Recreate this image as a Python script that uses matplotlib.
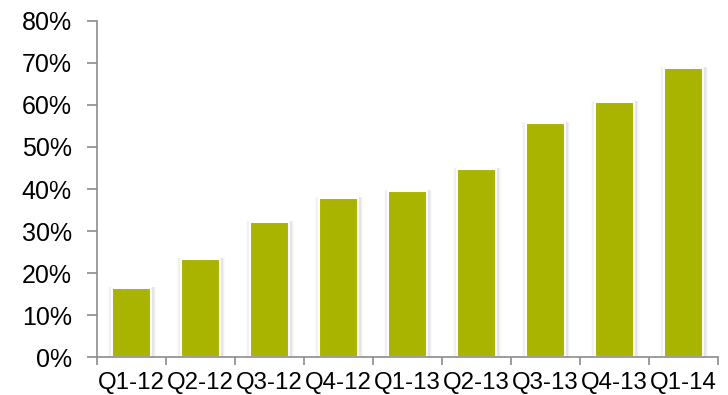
import matplotlib.pyplot as plt
import numpy as np

quarters = ["Q1-12", "Q2-12", "Q3-12", "Q4-12", "Q1-13", "Q2-13", "Q3-13", "Q4-13", "Q1-14"]
share = [16.4, 23.3, 32.1, 37.9, 39.5, 44.8, 55.7, 60.8, 68.7]

plt.rcParams['font.family'] = ['Liberation Sans', 'DejaVu Sans']

fig = plt.figure(figsize=(7.28, 3.95), dpi=100)
ax = fig.add_axes([0.133, 0.096, 0.853, 0.851])

x = np.arange(len(quarters))
w = 0.57

# soft glow/shadow around each bar
for dw, a in [(0.05, 0.05), (0.09, 0.035), (0.13, 0.02)]:
    ax.bar(x + 0.012, [v + 0.25 for v in share], width=w + dw, color="black",
           alpha=a, linewidth=0, zorder=1)
ax.bar(x, share, width=w, color="#a9b400", edgecolor="white",
       linewidth=1.5, zorder=2)

ax.set_xlim(-0.5, len(quarters) - 0.5)
ax.set_ylim(0, 80)
ax.set_yticks(range(0, 81, 10))
ax.set_yticklabels([f"{v}%" for v in range(0, 81, 10)])
ax.set_xticks(x)
ax.set_xticklabels(quarters)
ax.set_xticks(np.arange(-0.5, len(quarters)), minor=True)

for s in ["top", "right"]:
    ax.spines[s].set_visible(False)
for s in ["left", "bottom"]:
    ax.spines[s].set_color("#8c8c8c")
    ax.spines[s].set_linewidth(1.2)

ax.tick_params(axis="x", which="major", length=0, pad=11, labelsize=17.3)
ax.tick_params(axis="x", which="minor", length=6, color="#8c8c8c", width=1.2)
ax.tick_params(axis="y", length=7, color="#8c8c8c", width=1.2, labelsize=18, pad=11)

fig.savefig("out.png")
